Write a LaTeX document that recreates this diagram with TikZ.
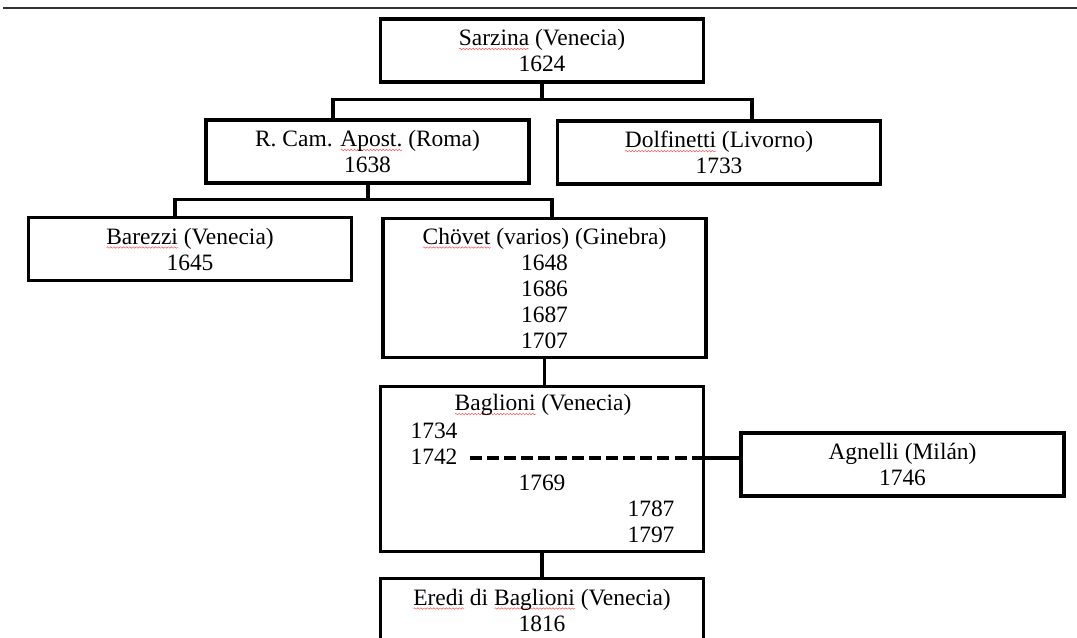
\documentclass[tikz,border=0pt]{standalone}
\usepackage{fontspec}
\setmainfont{Liberation Serif}
\usetikzlibrary{calc,decorations.pathmorphing}
\newsavebox\sqbox
\newcommand\redsq[1]{\sbox\sqbox{#1}\leavevmode\rlap{\tikz[baseline=0pt]\draw[red!70, line width=0.35pt,
  decorate, decoration={snake,amplitude=0.55pt,segment length=2.4pt}]
  (0pt,-2.6pt) -- (\wd\sqbox,-2.6pt);}\usebox\sqbox}
\newcommand\mainfs{\fontsize{17.6pt}{19.5pt}\selectfont}
\tikzset{
  box/.style={draw, line width=2.3pt, minimum width=242.25pt, minimum height=47.25pt,
              inner sep=0pt, align=center, font=\mainfs},
  yr/.style={inner sep=0pt, font=\mainfs},
  link/.style={line width=2.3pt},
  dashlink/.style={line width=2.3pt, dash pattern=on 9pt off 3.8pt},
}
\begin{document}
\begin{tikzpicture}[x=0.75pt,y=-0.75pt]
\useasboundingbox (0,0) rectangle (1077,638);
\clip (0,0) rectangle (1077,638);
% page rule
\draw[line width=0.9pt, black!80] (3,8) -- (1077,8);

\node[box] (sarzina) at (542,50.5) {\redsq{Sarzina} (Venecia)\\1624};
\node[box] (rcam) at (367.5,151.5) {R. Cam. \redsq{Apost.} (Roma)\\1638};
\node[box] (dolf) at (719,152.5) {\redsq{Dolfinetti} (Livorno)\\1733};
\node[box] (barezzi) at (190,249) {\redsq{Barezzi} (Venecia)\\1645};
\node[box, minimum height=104.25pt] (chovet) at (544.5,288)
  {\redsq{Chövet} (varios) (Ginebra)\\1648\\1686\\1687\\1707};
\node[box, minimum height=123.75pt] (baglioni) at (542,469) {};
\node[yr] (bagtitle) at (543,405) {\redsq{Baglioni} (Venecia)};
\node[yr] (y1734) at (434,431) {1734};
\node[yr] (y1742) at (434,457) {1742};
\node[yr] (y1769) at (542,483) {1769};
\node[yr] (y1787) at (651,509) {1787};
\node[yr] (y1797) at (651,535) {1797};
\node[box] (agnelli) at (902.5,464.5) {Agnelli (Milán)\\1746};
\node[box] (eredi) at (542,610) {\redsq{Eredi} di \redsq{Baglioni} (Venecia)\\1816};

% connectors
\coordinate (j1) at ($(sarzina.south)+(0,16)$);
\draw[link] (sarzina.south) -- (j1);
\draw[link] ($(rcam.north)+(-34.5,0)$) |- (j1) -| ($(dolf.north)+(33,0)$);

\coordinate (j2) at ($(rcam.south)+(0.5,15)$);
\draw[link] (rcam.south -| j2) -- (j2);
\draw[link] ($(barezzi.north)+(-15,0)$) |- (j2) -| ($(chovet.north)+(7.5,0)$);

\draw[link] (chovet.south) -- (chovet.south |- baglioni.north);
\draw[link] (baglioni.south) -- (eredi.north);

\coordinate (dashstart) at ($(y1742.east)+(12,1)$);
\draw[dashlink] (dashstart) -- (dashstart -| baglioni.east);
\draw[link] (dashstart -| baglioni.east) -- (dashstart -| agnelli.west);
\end{tikzpicture}
\end{document}
